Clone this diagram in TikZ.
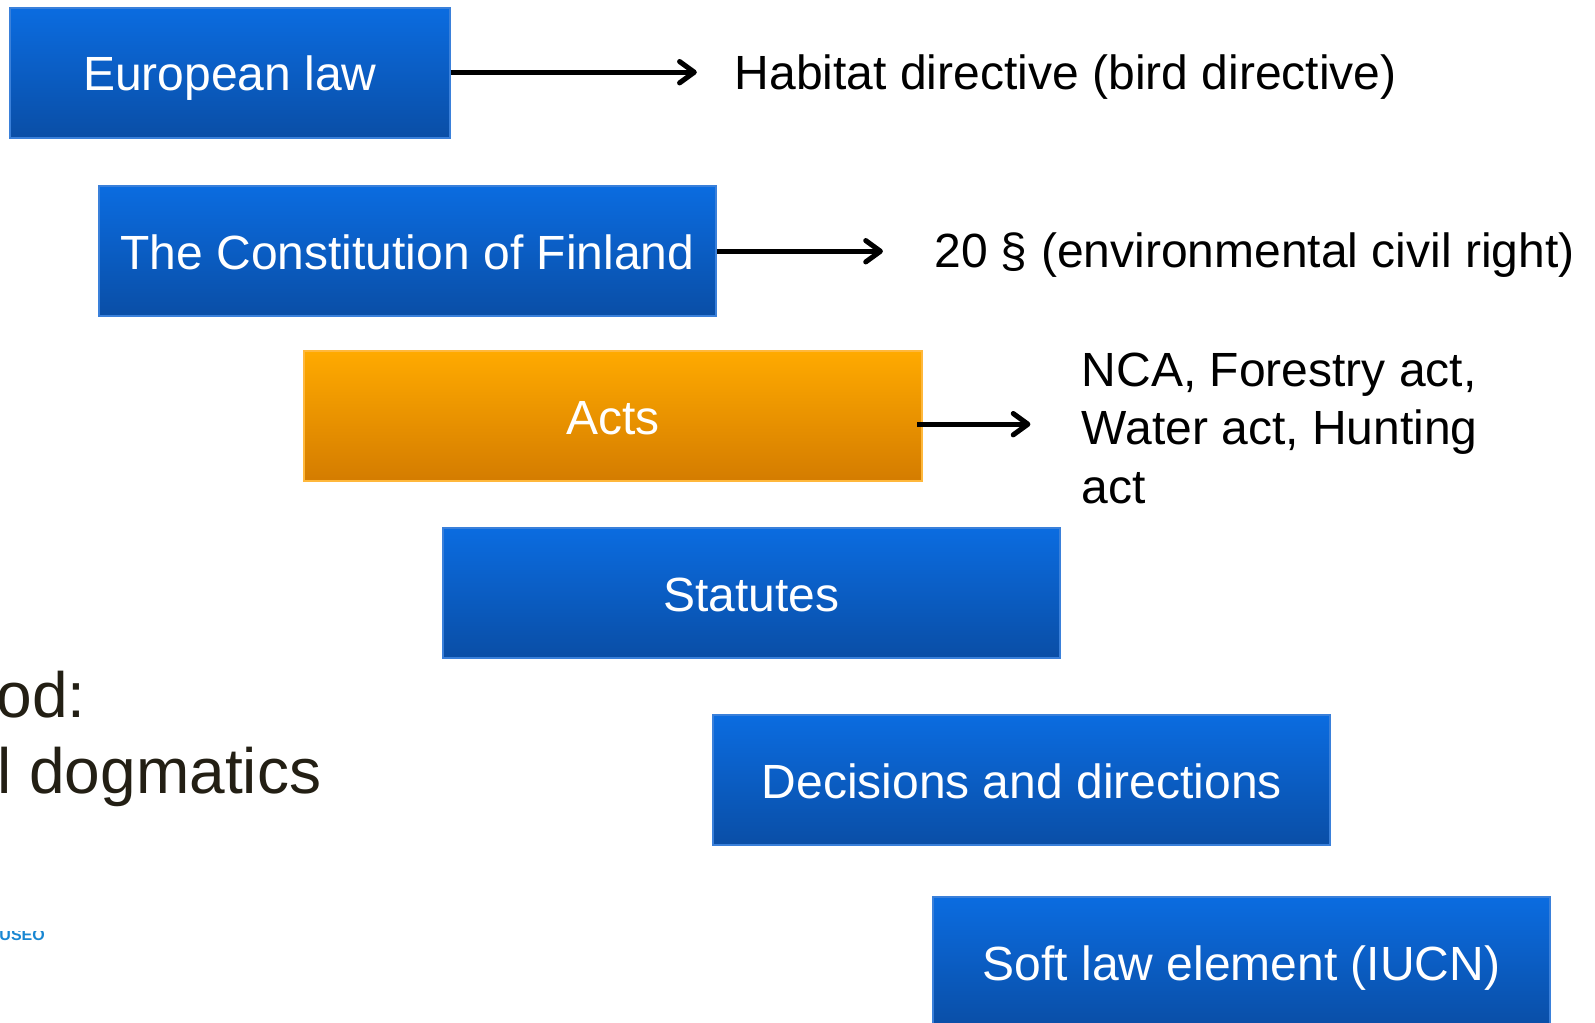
\documentclass[tikz,border=0pt]{standalone}
\usepackage{fontspec}
\setmainfont{Liberation Sans}
\usetikzlibrary{arrows.meta}

\definecolor{boxtop}{RGB}{11,108,224}
\definecolor{boxbot}{RGB}{10,78,166}
\definecolor{boxline}{RGB}{58,128,218}
\definecolor{acttop}{RGB}{255,170,0}
\definecolor{actbot}{RGB}{212,124,0}
\definecolor{actline}{RGB}{255,184,60}
\definecolor{darktext}{RGB}{35,31,20}
\definecolor{logoblue}{RGB}{25,135,210}

\tikzset{every picture/.style={line width=0.75pt}}
\tikzset{
  lawbox/.style={draw=boxline, line width=1.5pt, top color=boxtop, bottom color=boxbot,
    minimum width=463pt, minimum height=97.7pt, inner sep=0pt, text=white,
    text height=28pt, text depth=1pt, font=\fontsize{36}{43}\selectfont},
  actbox/.style={lawbox, draw=actline, top color=acttop, bottom color=actbot},
  note/.style={anchor=west, inner sep=0pt, align=left, text=black,
    font=\fontsize{36}{44}\selectfont},
  side/.style={anchor=base west, inner sep=0pt, text=darktext,
    font=\fontsize{48}{57}\selectfont},
  arr/.style={line width=3.8pt, -{Straight Barb[length=11pt,width=16pt,round]}}
}

\begin{document}
\begin{tikzpicture}[x=0.7629pt,y=0.7629pt,yscale=-1,xscale=1]
\useasboundingbox (0,0) rectangle (1568,1004.7);

%Shape: Rectangle [id:eulaw]
\node[lawbox, minimum width=329.6pt] (eulaw) at (226,71.5) {European law};
%Shape: Rectangle [id:constitution]
\node[lawbox] (constitution) at (400.5,247) {The Constitution of Finland};
%Shape: Rectangle [id:acts]
\node[actbox] (acts) at (602.5,409) {Acts};
%Shape: Rectangle [id:statutes]
\node[lawbox] (statutes) at (738.5,583) {Statutes};
%Shape: Rectangle [id:decisions]
\node[lawbox] (decisions) at (1004.5,767) {Decisions and directions};
%Shape: Rectangle [id:softlaw]
\node[lawbox] (softlaw) at (1220.5,946) {Soft law element (IUCN)};

% Text Node
\node[note] (habitat) at (722,76) {Habitat directive (bird directive)};
% Text Node
\node[note] (civilright) at (918,251) {20 § (environmental civil right)};
% Text Node
\node[note] (actlist) at (1063,421) {NCA, Forestry act,\\Water act, Hunting\\act};

%arrow tips
\coordinate (eutip) at (685,71);
\coordinate (consttip) at (868,247);
\coordinate (actstip) at (1013,417);

%Straight Lines
\draw[arr] (eulaw.east |- eutip) -- (eutip);
%Straight Lines
\draw[arr] (constitution.east |- consttip) -- (consttip);
%Straight Lines
\draw[arr] ([xshift=-4pt]acts.east |- actstip) -- (actstip);

% Text Node
\node[side] (method) at (-4,705) {od:};
% Text Node
\node[side] (dogmatics) at (-3,780) {l dogmatics};

% Text Node
\begin{scope}
\clip (0,916) rectangle (60,930);
\node[anchor=base west, inner sep=0pt, text=logoblue, font=\bfseries\fontsize{12}{14}\selectfont] (logo) at (-1,925) {USEO};
\end{scope}

\end{tikzpicture}
\end{document}
